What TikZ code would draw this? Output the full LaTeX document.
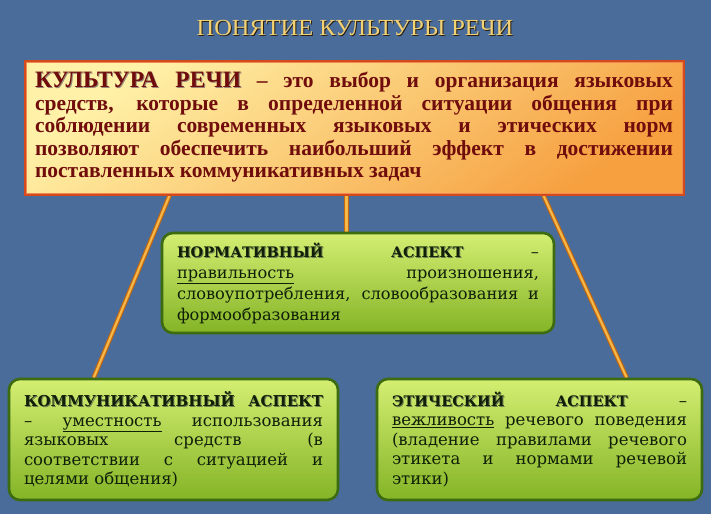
\documentclass[tikz,border=0pt]{standalone}
\usepackage{fontspec}
\setmainfont{Liberation Serif}
\newfontfamily\gfont{DejaVu Serif}
\newfontfamily\tfont[FakeStretch=1.06]{Liberation Serif}
\usetikzlibrary{calc}
\definecolor{bgblue}{HTML}{4A6C9A}
\definecolor{titlegold}{HTML}{F2D274}
\definecolor{titleshd}{HTML}{2A1E10}
\definecolor{redtext}{HTML}{700C0C}
\definecolor{redshd}{HTML}{9A8A7A}
\definecolor{pale}{HTML}{FFF2A8}
\definecolor{orng}{HTML}{F6A040}
\definecolor{redborder}{HTML}{D44A1C}
\definecolor{redinner}{HTML}{F08850}
\definecolor{gtop}{HTML}{D4EE72}
\definecolor{gbot}{HTML}{84B426}
\definecolor{gborder}{HTML}{3C6B10}
\definecolor{gtext}{HTML}{0F1F08}
\definecolor{gshd}{HTML}{6F7F50}
\definecolor{connedge}{HTML}{C46810}
\definecolor{conncore}{HTML}{F6B848}
\newcommand\shd[2][gshd]{\leavevmode\rlap{\kern1pt\raisebox{-1pt}{\textcolor{#1}{#2}}}#2}
\newcommand\hd[2]{{\fontsize{#1}{10}\selectfont\bfseries\shd{#2}}}
\pgfdeclarelayer{back}
\pgfdeclarelayer{mid}
\pgfsetlayers{back,mid,main}
\tikzset{
  defbox/.style={draw=redborder, line width=3pt, top color=pale, bottom color=orng, shading angle=35,
    inner xsep=10pt, inner ysep=0pt, align=justify, text=redtext,
    font=\bfseries\fontsize{21.5}{22.5}\selectfont},
  aspbox/.style={draw=gborder, line width=2.6pt, rounded corners=11pt, top color=gtop, bottom color=gbot,
    inner xsep=15pt, inner ysep=0pt, align=justify, text=gtext},
  conn/.style={draw=connedge, line width=1.2pt, double=conncore, double distance=2.2pt},
  titlestyle/.style={text=titlegold, font=\tfont\fontsize{23}{26}\selectfont, inner sep=0pt}
}
\begin{document}
\begin{tikzpicture}[x=1pt,y=-1pt]
\useasboundingbox (0,0) rectangle (711,514);
\begin{pgfonlayer}{back}
\fill[bgblue] (0,0) rectangle (711,514);
\end{pgfonlayer}

\node[titlestyle] (title) at (355,28) {\shd[titleshd]{ПОНЯТИЕ КУЛЬТУРЫ РЕЧИ}};

\node[defbox, minimum width=658pt, minimum height=133pt, text width=638pt] (def) at (354,127.5)
{{\fontsize{23.5}{22.5}\selectfont\shd[redshd]{КУЛЬТУРА} \shd[redshd]{РЕЧИ}} – это выбор и организация языковых\linebreak
средств, которые в определенной ситуации общения при\linebreak
соблюдении современных языковых и этических норм\linebreak
позволяют обеспечить наибольший эффект в достижении\linebreak
поставленных коммуникативных задач};
\draw[redinner, line width=0.8pt] ([shift={(2.5pt,-2.5pt)}]def.north west) rectangle ([shift={(-2.5pt,2.5pt)}]def.south east);

\node[aspbox, minimum width=390pt, minimum height=100pt, text width=362pt,
  font=\gfont\fontsize{16.2}{21}\selectfont] (norm) at (358,283)
{\hd{14.5}{НОРМАТИВНЫЙ} \hd{14.5}{АСПЕКТ} –\linebreak
\underline{правильность} произношения,\linebreak
словоупотребления, словообразования и\linebreak
формообразования};

\node[aspbox, minimum width=329pt, minimum height=121pt, text width=299pt,
  font=\gfont\fontsize{16.5}{19.5}\selectfont] (comm) at (173.5,439.5)
{\hd{15}{КОММУНИКАТИВНЫЙ} \hd{15}{АСПЕКТ}\linebreak
– \underline{уместность} использования\linebreak
языковых средств (в\linebreak
соответствии с ситуацией и\linebreak
целями общения)};

\node[aspbox, minimum width=325pt, minimum height=121pt, text width=295pt,
  font=\gfont\fontsize{16.5}{19.5}\selectfont] (eth) at (539.5,439.5)
{\hd{14.5}{ЭТИЧЕСКИЙ} \hd{14.5}{АСПЕКТ} –\linebreak
\underline{вежливость} речевого поведения\linebreak
(владение правилами речевого\linebreak
этикета и нормами речевой\linebreak
этики)};

\begin{pgfonlayer}{mid}
\draw[conn] ($(def.south west)+(146pt,0)$) -- ($(comm.north west)+(86pt,0)$);
\draw[conn] ($(def.south west)+(323pt,0)$) coordinate (m1) -- (m1 |- norm.north);
\draw[conn] ($(def.south west)+(520pt,0)$) -- ($(eth.north west)+(251pt,0)$);
\end{pgfonlayer}
\end{tikzpicture}
\end{document}
